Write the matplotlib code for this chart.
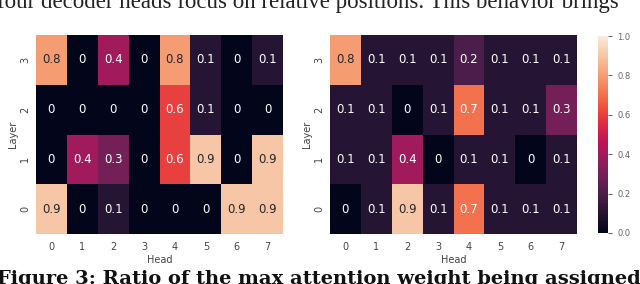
import numpy as np
import matplotlib
matplotlib.use("Agg")
import matplotlib.pyplot as plt
import seaborn as sns

heads = ["0", "1", "2", "3", "4", "5", "6", "7"]
layers = ["3", "2", "1", "0"]

# rows from layer 3 (top) down to layer 0
gauche = [
    [0.8, 0, 0.4, 0, 0.8, 0.1, 0, 0.1],
    [0, 0, 0, 0, 0.6, 0.1, 0, 0],
    [0, 0.4, 0.3, 0, 0.6, 0.9, 0, 0.9],
    [0.9, 0, 0.1, 0, 0, 0, 0.9, 0.9],
]
droite = [
    [0.8, 0.1, 0.1, 0.1, 0.2, 0.1, 0.1, 0.1],
    [0.1, 0.1, 0, 0.1, 0.7, 0.1, 0.1, 0.3],
    [0.1, 0.1, 0.4, 0, 0.1, 0.1, 0, 0.1],
    [0, 0.1, 0.9, 0.1, 0.7, 0.1, 0.1, 0.1],
]

texte_haut = "four decoder heads focus on relative positions. This behavior brings"
legende = "Figure 3: Ratio of the max attention weight being assigned"

fig = plt.figure(figsize=(6.4, 2.84), dpi=100)
ax1 = fig.add_axes([36/640, 1-234/284, 247/640, 199/284])
ax2 = fig.add_axes([330/640, 1-234/284, 247/640, 199/284])
cax = fig.add_axes([598/640, 1-233/284, 10/640, 197/284])

for ax, data, cb in [(ax1, gauche, False), (ax2, droite, True)]:
    sns.heatmap(np.array(data), ax=ax, vmin=0, vmax=1, cmap="rocket",
                annot=True, fmt="g", annot_kws={"size": 8.5},
                xticklabels=heads, yticklabels=layers,
                cbar=cb, cbar_ax=cax if cb else None)
    ax.set_xlabel("Head", fontsize=7, color="#444444", labelpad=2)
    ax.set_ylabel("Layer", fontsize=7, color="#444444", labelpad=2)
    ax.tick_params(axis="both", labelsize=7, length=0, colors="#444444", pad=6)
    ax.tick_params(axis="y", pad=4)
    for t in ax.get_yticklabels():
        t.set_rotation(90)
        t.set_va("center")

cax.tick_params(labelsize=6, length=3, colors="#666666")
cax.set_yticks([0, 0.2, 0.4, 0.6, 0.8, 1.0])
cax.set_yticklabels(["0.0", "0.2", "0.4", "0.6", "0.8", "1.0"])

fig.text(-0.004, 1-8/284, texte_haut, fontsize=16.5, family="Liberation Serif",
         va="baseline", ha="left", color="#222222")
fig.text(-0.004, 1-284/284, legende, fontsize=14, family="DejaVu Serif",
         weight="bold", va="baseline", ha="left", color="#111111")

fig.savefig("out.png", dpi=100)
